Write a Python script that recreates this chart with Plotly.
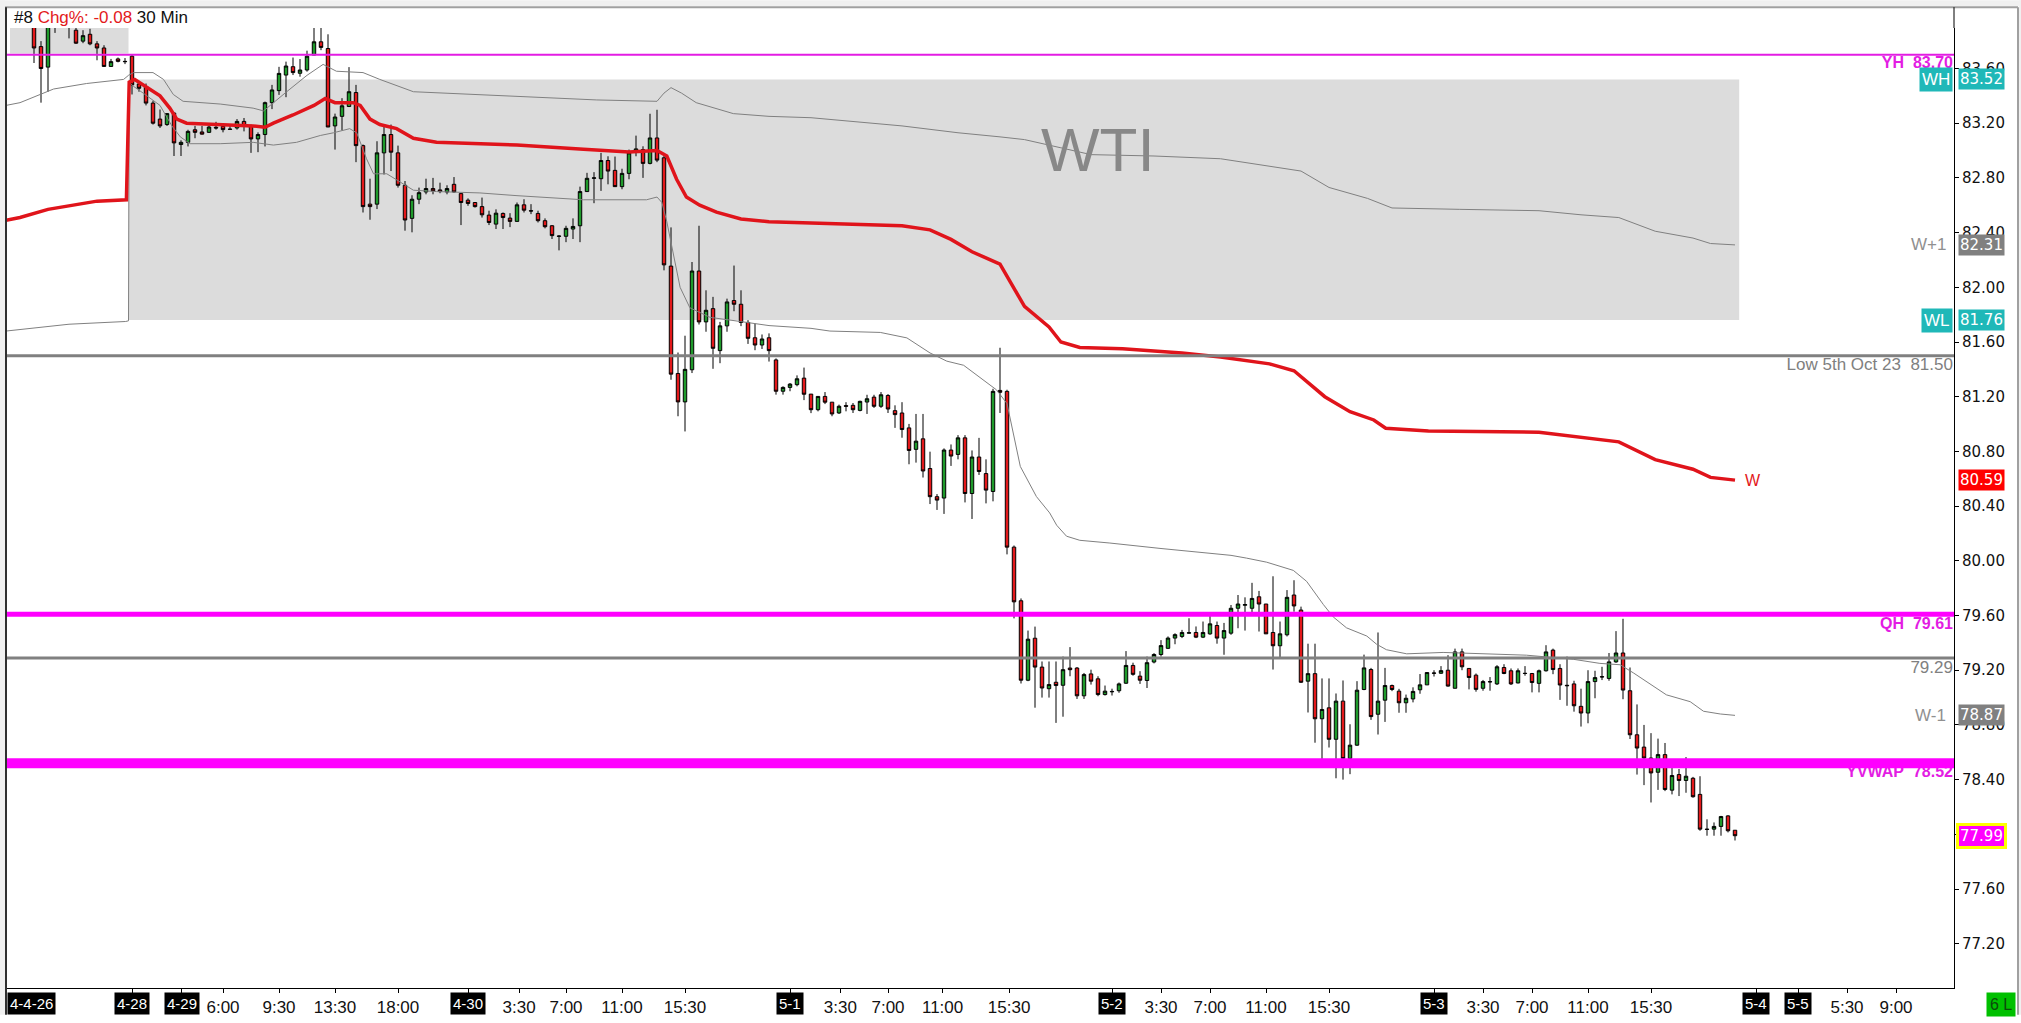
import plotly.graph_objects as go

# ---------------- data (30 min bars, index = bar number) ----------------
opens = [
    83.93, 83.76, 83.61, 83.95, 83.97, 83.95, 83.88, 83.80, 83.85, 83.78,
    83.75, 83.615, 83.67, 83.652, 83.69, 83.487, 83.468, 83.347, 83.23, 83.19,
    83.274, 83.044, 83.06, 83.152, 83.136, 83.133, 83.17, 83.177, 83.157, 83.165,
    83.213, 83.177, 83.085, 83.117, 83.35, 83.438, 83.552, 83.613, 83.565, 83.589,
    83.698, 83.795, 83.746, 83.18, 83.25, 83.322, 83.424, 83.036, 82.608, 82.608,
    82.983, 83.117, 82.983, 82.746, 82.504, 82.644, 82.697, 82.722, 82.712, 82.697,
    82.753, 82.685, 82.637, 82.62, 82.59, 82.528, 82.462, 82.54, 82.506, 82.482,
    82.603, 82.56, 82.54, 82.487, 82.45, 82.375, 82.373, 82.426, 82.45, 82.70,
    82.797, 82.794, 82.927, 82.855, 82.736, 82.833, 82.988, 83.007, 82.906, 83.092,
    82.947, 82.155, 81.37, 81.162, 81.397, 82.119, 81.747, 81.844, 81.537, 81.718,
    81.903, 81.876, 81.743, 81.631, 81.578, 81.631, 81.469, 81.24, 81.268, 81.288,
    81.336, 81.219, 81.105, 81.202, 81.16, 81.081, 81.135, 81.137, 81.10, 81.161,
    81.197, 81.13, 81.209, 81.098, 81.081, 80.972, 80.815, 80.892, 80.675, 80.469,
    80.459, 80.81, 80.778, 80.899, 80.492, 80.759, 80.638, 80.507, 81.246, 81.239,
    80.10, 79.708, 79.127, 79.434, 79.223, 79.065, 79.112, 79.09, 79.216, 79.216,
    79.013, 79.173, 79.137, 79.022, 79.045, 79.05, 79.105, 79.235, 79.157, 79.125,
    79.26, 79.315, 79.36, 79.435, 79.447, 79.471, 79.476, 79.442, 79.466, 79.527,
    79.435, 79.471, 79.653, 79.675, 79.653, 79.737, 79.684, 79.476, 79.379, 79.459,
    79.75, 79.64, 79.12, 79.175, 78.845, 78.925, 78.695, 78.974, 78.555, 78.652,
    79.059, 79.205, 78.878, 78.981, 79.088, 79.047, 78.962, 78.99, 79.057, 79.093,
    79.18, 79.178, 79.20, 79.068, 79.334, 79.213, 79.164, 79.068, 79.117, 79.10,
    79.22, 79.196, 79.107, 79.178, 79.176, 79.104, 79.196, 79.347, 79.213, 79.09,
    79.10, 78.936, 78.887, 79.117, 79.153, 79.14, 79.261, 79.326, 79.05, 78.728,
    78.638, 78.558, 78.454, 78.583, 78.323, 78.437, 78.394, 78.41, 78.292, 78.038,
    78.038, 78.058, 78.135, 78.03,
]
highs = [
    83.98, 83.80, 84.00, 84.00, 84.01, 84.00, 83.90, 83.88, 83.89, 83.80,
    83.77, 83.67, 83.68, 83.676, 83.70, 83.503, 83.49, 83.364, 83.30, 83.274,
    83.279, 83.075, 83.152, 83.18, 83.18, 83.182, 83.21, 83.19, 83.19, 83.23,
    83.238, 83.19, 83.133, 83.358, 83.48, 83.612, 83.65, 83.68, 83.669, 83.73,
    83.93, 83.93, 83.85, 83.27, 83.383, 83.61, 83.48, 83.044, 82.794, 83.068,
    83.19, 83.19, 83.036, 82.777, 82.673, 82.729, 82.794, 82.80, 82.765, 82.746,
    82.806, 82.685, 82.65, 82.62, 82.656, 82.56, 82.57, 82.547, 82.542, 82.62,
    82.644, 82.608, 82.56, 82.504, 82.455, 82.38, 82.45, 82.504, 82.736, 82.837,
    82.842, 82.983, 82.958, 82.956, 82.867, 83.007, 83.109, 83.031, 83.269, 83.298,
    82.978, 82.438, 81.523, 81.646, 82.185, 82.45, 81.978, 81.93, 81.747, 81.917,
    82.159, 81.978, 81.76, 81.735, 81.655, 81.663, 81.48, 81.276, 81.30, 81.356,
    81.413, 81.219, 81.202, 81.234, 81.16, 81.142, 81.16, 81.154, 81.171, 81.214,
    81.214, 81.234, 81.219, 81.137, 81.16, 81.001, 81.074, 81.074, 80.798, 80.488,
    80.822, 80.851, 80.919, 80.919, 80.807, 80.899, 80.742, 81.258, 81.558, 81.251,
    80.112, 79.725, 79.49, 79.519, 79.264, 79.264, 79.264, 79.30, 79.369, 79.223,
    79.18, 79.204, 79.156, 79.088, 79.065, 79.11, 79.34, 79.255, 79.193, 79.30,
    79.325, 79.42, 79.447, 79.47, 79.495, 79.58, 79.52, 79.556, 79.617, 79.556,
    79.546, 79.677, 79.75, 79.733, 79.839, 79.78, 79.684, 79.887, 79.556, 79.786,
    79.858, 79.665, 79.394, 79.394, 79.14, 79.14, 79.03, 79.125, 78.805, 79.12,
    79.314, 79.217, 79.476, 79.217, 79.095, 79.064, 79.022, 79.075, 79.172, 79.183,
    79.20, 79.23, 79.31, 79.358, 79.358, 79.213, 79.176, 79.129, 79.15, 79.237,
    79.244, 79.213, 79.213, 79.23, 79.18, 79.205, 79.383, 79.358, 79.244, 79.30,
    79.123, 79.065, 79.20, 79.196, 79.225, 79.326, 79.486, 79.576, 79.22, 78.95,
    78.80, 78.74, 78.70, 78.668, 78.54, 78.478, 78.565, 78.42, 78.425, 78.11,
    78.087, 78.135, 78.14, 78.03,
]
lows = [
    83.64, 83.35, 83.43, 83.86, 83.91, 83.82, 83.78, 83.785, 83.77, 83.66,
    83.615, 83.615, 83.645, 83.632, 83.41, 83.43, 83.33, 83.19, 83.165, 83.18,
    82.96, 82.96, 83.03, 83.09, 83.117, 83.128, 83.153, 83.133, 83.153, 83.153,
    83.14, 82.983, 82.988, 83.03, 83.303, 83.407, 83.39, 83.552, 83.54, 83.577,
    83.698, 83.734, 83.172, 83.007, 83.148, 83.318, 82.915, 82.547, 82.494, 82.572,
    82.825, 82.85, 82.729, 82.414, 82.402, 82.608, 82.68, 82.68, 82.688, 82.68,
    82.692, 82.455, 82.596, 82.583, 82.51, 82.455, 82.426, 82.426, 82.44, 82.482,
    82.547, 82.535, 82.474, 82.431, 82.353, 82.27, 82.33, 82.353, 82.33, 82.697,
    82.615, 82.705, 82.753, 82.736, 82.717, 82.79, 82.958, 82.80, 82.899, 82.915,
    82.124, 81.324, 81.057, 80.946, 81.373, 81.728, 81.675, 81.404, 81.445, 81.675,
    81.825, 81.716, 81.586, 81.54, 81.549, 81.457, 81.215, 81.215, 81.24, 81.276,
    81.175, 81.08, 81.093, 81.146, 81.057, 81.074, 81.093, 81.081, 81.093, 81.074,
    81.118, 81.118, 81.081, 80.972, 80.90, 80.706, 80.718, 80.609, 80.415, 80.372,
    80.343, 80.694, 80.742, 80.427, 80.306, 80.628, 80.42, 80.435, 81.081, 80.047,
    79.579, 79.103, 79.12, 78.926, 79.00, 79.00, 78.815, 78.86, 79.156, 78.99,
    78.99, 79.095, 79.01, 79.015, 79.015, 79.035, 79.10, 79.16, 79.10, 79.07,
    79.25, 79.30, 79.355, 79.39, 79.435, 79.468, 79.435, 79.435, 79.459, 79.394,
    79.313, 79.459, 79.507, 79.49, 79.604, 79.483, 79.466, 79.205, 79.289, 79.447,
    79.628, 79.107, 78.891, 78.67, 78.54, 78.635, 78.41, 78.40, 78.44, 78.647,
    79.054, 78.837, 78.73, 78.822, 79.047, 78.889, 78.889, 78.965, 79.028, 79.093,
    79.154, 79.173, 79.08, 79.068, 79.20, 79.06, 79.043, 79.05, 79.05, 79.092,
    79.171, 79.092, 79.104, 79.16, 79.038, 79.038, 79.19, 79.171, 78.983, 78.94,
    78.897, 78.788, 78.812, 78.995, 79.128, 79.123, 79.254, 78.988, 78.697, 78.437,
    78.36, 78.233, 78.325, 78.316, 78.292, 78.28, 78.304, 78.268, 78.026, 77.99,
    77.99, 77.99, 78.014, 77.955,
]
closes = [
    83.75, 83.60, 83.95, 83.92, 83.95, 83.91, 83.785, 83.84, 83.78, 83.75,
    83.615, 83.65, 83.652, 83.65, 83.48, 83.455, 83.347, 83.20, 83.18, 83.27,
    83.056, 83.06, 83.14, 83.133, 83.12, 83.172, 83.165, 83.153, 83.155, 83.213,
    83.182, 83.085, 83.117, 83.35, 83.443, 83.564, 83.618, 83.57, 83.589, 83.69,
    83.795, 83.754, 83.172, 83.245, 83.327, 83.43, 83.036, 82.59, 82.59, 82.983,
    83.117, 82.988, 82.746, 82.492, 82.644, 82.692, 82.722, 82.705, 82.70, 82.722,
    82.697, 82.62, 82.613, 82.59, 82.53, 82.474, 82.542, 82.51, 82.482, 82.603,
    82.564, 82.558, 82.487, 82.443, 82.378, 82.373, 82.431, 82.445, 82.70, 82.797,
    82.80, 82.927, 82.85, 82.736, 82.833, 82.983, 83.012, 82.906, 83.092, 82.93,
    82.164, 81.365, 81.162, 81.40, 82.119, 81.747, 81.832, 81.554, 81.718, 81.893,
    81.876, 81.743, 81.627, 81.578, 81.622, 81.537, 81.24, 81.268, 81.292, 81.331,
    81.218, 81.105, 81.202, 81.16, 81.074, 81.13, 81.13, 81.105, 81.166, 81.185,
    81.13, 81.214, 81.11, 81.069, 80.96, 80.807, 80.875, 80.657, 80.469, 80.444,
    80.81, 80.766, 80.899, 80.492, 80.759, 80.653, 80.517, 81.239, 81.232, 80.10,
    79.70, 79.127, 79.427, 79.223, 79.07, 79.095, 79.088, 79.204, 79.204, 79.013,
    79.168, 79.12, 79.022, 79.047, 79.043, 79.10, 79.235, 79.17, 79.127, 79.255,
    79.315, 79.38, 79.435, 79.46, 79.476, 79.474, 79.442, 79.476, 79.539, 79.435,
    79.49, 79.653, 79.684, 79.68, 79.725, 79.684, 79.466, 79.379, 79.466, 79.733,
    79.67, 79.112, 79.175, 78.845, 78.913, 78.695, 78.974, 78.555, 78.652, 79.054,
    79.217, 78.861, 78.974, 79.088, 79.059, 78.962, 78.995, 79.045, 79.093, 79.183,
    79.178, 79.197, 79.084, 79.334, 79.225, 79.147, 79.06, 79.117, 79.115, 79.225,
    79.176, 79.10, 79.196, 79.176, 79.11, 79.196, 79.334, 79.205, 79.092, 79.087,
    78.94, 78.887, 79.117, 79.146, 79.151, 79.261, 79.326, 79.055, 78.728, 78.631,
    78.558, 78.449, 78.583, 78.328, 78.43, 78.394, 78.425, 78.275, 78.038, 78.036,
    78.058, 78.13, 78.026, 77.99,
]
bar_index = list(range(len(opens)))

# weekly VWAP (W) and its +1 / -1 bands
w_x = [-4, -2, 2, 9, 13.2, 13.6, 14.4, 16, 18, 19.4, 20.4, 21.8, 26.6, 31.3, 33, 34.2, 37, 40, 41.6, 43,
       45.6, 46.6, 48, 49.4, 51.8, 54.2, 57.5, 63.7, 69, 78.5, 85, 89, 90.4, 91.8, 93.2, 95.1, 97.5, 101,
       105, 111, 124, 128, 131, 134, 138, 141.5, 145, 146.7, 149.4, 155.5, 164, 169.5, 176.5, 180, 184.4,
       188, 191.4, 193.1, 199.2, 215, 221, 226.4, 231.6, 237, 239.5, 243]
w_y = [82.49, 82.51, 82.57, 82.63, 82.64, 83.50, 83.52, 83.47, 83.40, 83.31, 83.23, 83.20, 83.19, 83.18,
       83.17, 83.20, 83.26, 83.33, 83.38, 83.35, 83.35, 83.33, 83.23, 83.19, 83.16, 83.09, 83.06, 83.05,
       83.04, 83.01, 82.99, 83.00, 82.96, 82.79, 82.66, 82.60, 82.55, 82.50, 82.48, 82.47, 82.45, 82.42,
       82.35, 82.26, 82.17, 81.86, 81.71, 81.60, 81.56, 81.55, 81.52, 81.49, 81.44, 81.39, 81.20, 81.09,
       81.03, 80.97, 80.95, 80.94, 80.90, 80.87, 80.74, 80.67, 80.61, 80.59]
wp1_x = [-4, -2, 2.8, 7.5, 12.8, 13.5, 14.2, 17, 18.5, 19.9, 21.3, 26.6, 31.3, 32.8, 36.1, 39, 41.3, 43.2,
         47, 49.4, 54.2, 63.7, 80.4, 89, 90, 91, 92.5, 94.6, 99.9, 105, 111, 124, 132, 138, 141.5, 146.7,
         151, 160, 169.5, 181, 185, 190.5, 194, 203.6, 215, 221, 226.4, 231.6, 237, 239.5, 243]
wp1_y = [83.33, 83.35, 83.45, 83.49, 83.52, 83.55, 83.57, 83.57, 83.52, 83.41, 83.36, 83.34, 83.31, 83.29,
         83.43, 83.55, 83.63, 83.58, 83.57, 83.52, 83.43, 83.41, 83.37, 83.36, 83.42, 83.46, 83.42, 83.35,
         83.27, 83.25, 83.24, 83.18, 83.13, 83.10, 83.08, 83.02, 82.97, 82.96, 82.94, 82.85, 82.73, 82.65,
         82.58, 82.57, 82.56, 82.53, 82.51, 82.41, 82.36, 82.32, 82.31]
wm1_x = [-4, -2, 5, 13.1, 13.5, 13.6, 14.2, 15.6, 18, 19.7, 20.9, 22.3, 26.6, 31.3, 34.2, 37.5, 40.9, 42.8,
         45.1, 46.1, 47.5, 48.5, 50.4, 54.2, 57.5, 63.7, 69, 78.5, 87.5, 89, 89.7, 90.4, 91.3, 92.3, 93.7,
         96.6, 100.9, 105, 111, 113.7, 120.9, 124.7, 128, 130.4, 132.8, 135.1, 137.5, 139, 140.9, 143.2,
         145.1, 146.1, 147.5, 149.4, 153.7, 161, 171, 173.2, 176.1, 179.9, 181.8, 184.2, 185.6, 187.5,
         190.4, 191.8, 193.2, 196.1, 201.3, 213.2, 219.9, 223.7, 226.6, 228.5, 230.9, 233.2, 236.6, 238.5,
         240.9, 243]
wm1_y = [81.68, 81.69, 81.73, 81.75, 81.755, 83.50, 83.47, 83.42, 83.33, 83.18, 83.10, 83.05, 83.05, 83.06,
         83.04, 83.06, 83.11, 83.13, 83.16, 83.13, 82.94, 82.83, 82.83, 82.71, 82.70, 82.69, 82.67, 82.64,
         82.64, 82.66, 82.62, 82.48, 82.24, 82.00, 81.85, 81.78, 81.75, 81.72, 81.70, 81.68, 81.67, 81.63,
         81.52, 81.46, 81.43, 81.34, 81.25, 81.15, 80.69, 80.47, 80.35, 80.26, 80.18, 80.15, 80.13, 80.09,
         80.04, 80.02, 79.99, 79.93, 79.85, 79.68, 79.59, 79.51, 79.45, 79.39, 79.35, 79.32, 79.33, 79.31,
         79.28, 79.25, 79.24, 79.18, 79.10, 79.02, 78.97, 78.90, 78.88, 78.87]

# weekly range boxes (bar index span, prices)
prev_week_span = [-3.43, 13.5]
prev_week_low = 83.71
week_span = [13.5, 243.6]
week_high = 83.52
week_low = 81.76

# horizontal reference levels
level_names = ["YH", "Low 5th Oct 23", "QH", "", "YVWAP"]
level_values = [83.70, 81.50, 79.61, 79.29, 78.52]

# right-hand price badges
badge_names = ["WH", "W+1", "WL", "W", "W-1"]
badge_values = [83.52, 82.31, 81.76, 80.59, 78.87]
last_price = 77.99

y_tick_values = [77.20, 77.60, 78.00, 78.40, 78.80, 79.20, 79.60, 80.00, 80.40,
                 80.80, 81.20, 81.60, 82.00, 82.40, 82.80, 83.20, 83.60]

time_tick_pos = [27, 35, 43, 52, 69.3, 76, 84, 93, 115.2, 122, 129.8, 139.3,
                 161, 168, 176, 185, 207, 214, 222, 231, 259, 266]
time_tick_text = ["6:00", "9:30", "13:30", "18:00", "3:30", "7:00", "11:00", "15:30",
                  "3:30", "7:00", "11:00", "15:30", "3:30", "7:00", "11:00", "15:30",
                  "3:30", "7:00", "11:00", "15:30", "5:30", "9:00"]
date_tick_pos = [14, 21.1, 62, 108, 154, 200, 246, 252]
date_tick_text = ["4-28", "4-29", "4-30", "5-1", "5-2", "5-3", "5-4", "5-5"]
first_date_text = "4-4-26"

header_parts = ["#8", "Chg%: -0.08", "30 Min"]
symbol_text = "WTI"
status_text = "6 L"

# ---------------- styling ----------------
W, H = 2021, 1023
ML, MR, MT, MB = 6, 67, 28, 27
PW, PH = W - ML - MR, H - MT - MB
PX_PER_UNIT = 137.9
X_RANGE = [-4.0, -4.0 + PW / 7.0]
Y_TOP = 83.896
Y_RANGE = [Y_TOP - PH / PX_PER_UNIT, Y_TOP]


def paper_x(px):
    return (px - ML) / PW


def paper_y(py):
    return (H - MB - py) / PH


GREEN = "#1f9a2b"
RED = "#e3191b"
TEAL = "#1fb8b8"
GRAY = "#808080"
MAGENTA = "#ff00ff"
SANS = "Liberation Sans, Arial, sans-serif"
AXF = "DejaVu Sans, Verdana, sans-serif"

level_style = [
    dict(color="#e31ce3", width=2, fcolor="#e31ce3", bold=True, size=16, dy=-0.012),
    dict(color=GRAY, width=3, fcolor=GRAY, bold=False, size=17, dy=-0.015),
    dict(color=MAGENTA, width=5, fcolor="#e31ce3", bold=True, size=16, dy=-0.018),
    dict(color=GRAY, width=3, fcolor=GRAY, bold=False, size=17, dy=-0.015),
    dict(color=MAGENTA, width=10, fcolor="#e31ce3", bold=True, size=16, dy=-0.016),
]
badge_style = {
    "WH": dict(bg=TEAL, inside="box"),
    "W+1": dict(bg=GRAY, inside="text"),
    "WL": dict(bg=TEAL, inside="box"),
    "W": dict(bg="#ff0000", inside="line_end"),
    "W-1": dict(bg=GRAY, inside="text"),
}

fig = go.Figure()

fig.add_trace(go.Scatter(x=wm1_x, y=wm1_y, mode="lines",
                         line=dict(color=GRAY, width=1), hoverinfo="skip"))
fig.add_trace(go.Scatter(x=wp1_x, y=wp1_y, mode="lines",
                         line=dict(color=GRAY, width=1), hoverinfo="skip"))
fig.add_trace(go.Scatter(x=w_x, y=w_y, mode="lines",
                         line=dict(color="#e0141b", width=3.5), hoverinfo="skip"))

fig.add_trace(go.Candlestick(
    x=bar_index, open=opens, high=highs, low=lows, close=closes,
    increasing=dict(line=dict(color="black", width=1), fillcolor=GREEN),
    decreasing=dict(line=dict(color="black", width=1), fillcolor=RED),
    whiskerwidth=0, hoverinfo="skip",
))

# level labels as text (so the thick YVWAP band can sit over its label)
for name, val, st in zip(level_names, level_values, level_style):
    label = (name + "\u00a0\u00a0" if name else "") + f"{val:.2f}"
    if st["bold"]:
        label = "<b>" + label + "</b>"
    fig.add_trace(go.Scatter(
        x=[X_RANGE[1] - 0.15], y=[val + st["dy"]], mode="text", text=[label],
        textposition="bottom left", cliponaxis=False, hoverinfo="skip",
        textfont=dict(family=SANS, size=st["size"], color=st["fcolor"]),
    ))

shapes = []
# weekly boxes
shapes.append(dict(type="rect", xref="x", yref="y", x0=prev_week_span[0], x1=prev_week_span[1],
                   y0=prev_week_low, y1=Y_RANGE[1] + 1, fillcolor="#dcdcdc", line=dict(width=0),
                   layer="below"))
shapes.append(dict(type="rect", xref="x", yref="y", x0=week_span[0], x1=week_span[1],
                   y0=week_low, y1=week_high, fillcolor="#dcdcdc", line=dict(width=0), layer="below"))
# level lines
for val, st in zip(level_values, level_style):
    shapes.append(dict(type="line", xref="paper", yref="y", x0=0, x1=1, y0=val, y1=val,
                       line=dict(color=st["color"], width=st["width"]), layer="above"))
# window frame
shapes += [
    dict(type="rect", xref="paper", yref="paper", x0=paper_x(0), x1=paper_x(W), y0=paper_y(6),
         y1=paper_y(0), fillcolor="#f0f0f0", line=dict(width=0)),
    dict(type="rect", xref="paper", yref="paper", x0=paper_x(2019), x1=paper_x(W), y0=paper_y(H),
         y1=paper_y(0), fillcolor="#f0f0f0", line=dict(width=0)),
    dict(type="rect", xref="paper", yref="paper", x0=paper_x(0), x1=paper_x(5), y0=paper_y(H),
         y1=paper_y(0), fillcolor="#f0f0f0", line=dict(width=0)),
    dict(type="line", xref="paper", yref="paper", x0=paper_x(5), x1=paper_x(2018), y0=paper_y(7),
         y1=paper_y(7), line=dict(color="#a0a0a0", width=2)),
    dict(type="line", xref="paper", yref="paper", x0=paper_x(2018), x1=paper_x(2018), y0=paper_y(H),
         y1=paper_y(7), line=dict(color="#a0a0a0", width=2)),
    dict(type="line", xref="paper", yref="paper", x0=paper_x(6), x1=paper_x(6), y0=paper_y(H),
         y1=paper_y(7), line=dict(color="#303030", width=2)),
    dict(type="line", xref="paper", yref="paper", x0=1, x1=1, y0=1, y1=paper_y(7),
         line=dict(color="black", width=1)),
]

annotations = []
# header
annotations.append(dict(
    xref="paper", yref="paper", x=0, y=1, xanchor="left", yanchor="middle", xshift=6, yshift=11,
    showarrow=False, align="left",
    text=f"{header_parts[0]} <span style='color:#e3191b'>{header_parts[1]}</span> {header_parts[2]}",
    font=dict(family=SANS, size=17, color="#111111")))
# watermark
annotations.append(dict(xref="x", yref="y", x=152, y=83.01, text=symbol_text, showarrow=False,
                        font=dict(family=SANS, size=62, color="#888888")))
# right badges
for name, val in zip(badge_names, badge_values):
    st = badge_style[name]
    annotations.append(dict(xref="paper", yref="y", x=1, y=val, xanchor="left", yanchor="middle",
                            xshift=4, showarrow=False, text=f"{val:.2f}", bgcolor=st["bg"],
                            borderpad=1, font=dict(family=AXF, size=15, color="white")))
    if st["inside"] == "box":
        annotations.append(dict(xref="paper", yref="y", x=1, y=val, xanchor="right", yanchor="middle",
                                xshift=-1, showarrow=False, text=name, bgcolor=st["bg"], borderpad=2,
                                font=dict(family=SANS, size=17, color="white")))
    elif st["inside"] == "text":
        annotations.append(dict(xref="paper", yref="y", x=1, y=val, xanchor="right", yanchor="middle",
                                xshift=-6, showarrow=False, text=name,
                                font=dict(family=SANS, size=17, color="#909090")))
    else:
        annotations.append(dict(xref="x", yref="y", x=w_x[-1] + 1.2, y=val, xanchor="left",
                                yanchor="middle", showarrow=False, text=name,
                                font=dict(family=SANS, size=16, color="#e3191b")))
# last price
annotations.append(dict(xref="paper", yref="y", x=1, y=last_price, xanchor="left", yanchor="middle",
                        xshift=2, showarrow=False, text=f"{last_price:.2f}", bgcolor=MAGENTA,
                        bordercolor="#ffff00", borderwidth=3, borderpad=1,
                        font=dict(family=AXF, size=15, color="white")))
# date labels on the time axis
for pos, txt in zip(date_tick_pos, date_tick_text):
    annotations.append(dict(xref="x", yref="paper", x=pos, y=0, xanchor="center", yanchor="top",
                            yshift=-4, showarrow=False, text=txt, bgcolor="black", borderpad=2,
                            font=dict(family=SANS, size=15, color="white")))
annotations.append(dict(xref="paper", yref="paper", x=0, y=0, xanchor="left", yanchor="top",
                        xshift=1, yshift=-4, showarrow=False, text=first_date_text, bgcolor="black",
                        borderpad=2, font=dict(family=SANS, size=15, color="white")))
# status box
annotations.append(dict(xref="paper", yref="paper", x=paper_x(2016), y=0, xanchor="right",
                        yanchor="top", yshift=-4, showarrow=False, text=status_text,
                        bgcolor="#00c000", borderpad=3,
                        font=dict(family=SANS, size=16, color="#0b4a0b")))

fig.update_layout(
    width=W, height=H, margin=dict(l=ML, r=MR, t=MT, b=MB, pad=0),
    paper_bgcolor="white", plot_bgcolor="white", showlegend=False, hovermode=False,
    shapes=shapes, annotations=annotations,
    xaxis=dict(range=X_RANGE, showgrid=False, zeroline=False, showline=True, linecolor="black",
               linewidth=1, ticks="outside", ticklen=4, tickcolor="black",
               tickvals=time_tick_pos + date_tick_pos,
               ticktext=time_tick_text + [""] * len(date_tick_pos),
               tickfont=dict(family=SANS, size=17, color="#111111"),
               rangeslider=dict(visible=False), fixedrange=True),
    yaxis=dict(range=Y_RANGE, side="right", showgrid=False, zeroline=False, showline=True,
               linecolor="black", linewidth=1, ticks="outside", ticklen=4, tickcolor="black",
               tickvals=y_tick_values, tickformat=".2f",
               tickfont=dict(family=AXF, size=15, color="#111111"), fixedrange=True),
)

# place the figure at the page's top-left corner (no default body margin), no modebar
fig.write_html("out.html", config={"displayModeBar": False},
               post_script="document.body.style.margin='0';document.body.style.overflow='hidden';")
